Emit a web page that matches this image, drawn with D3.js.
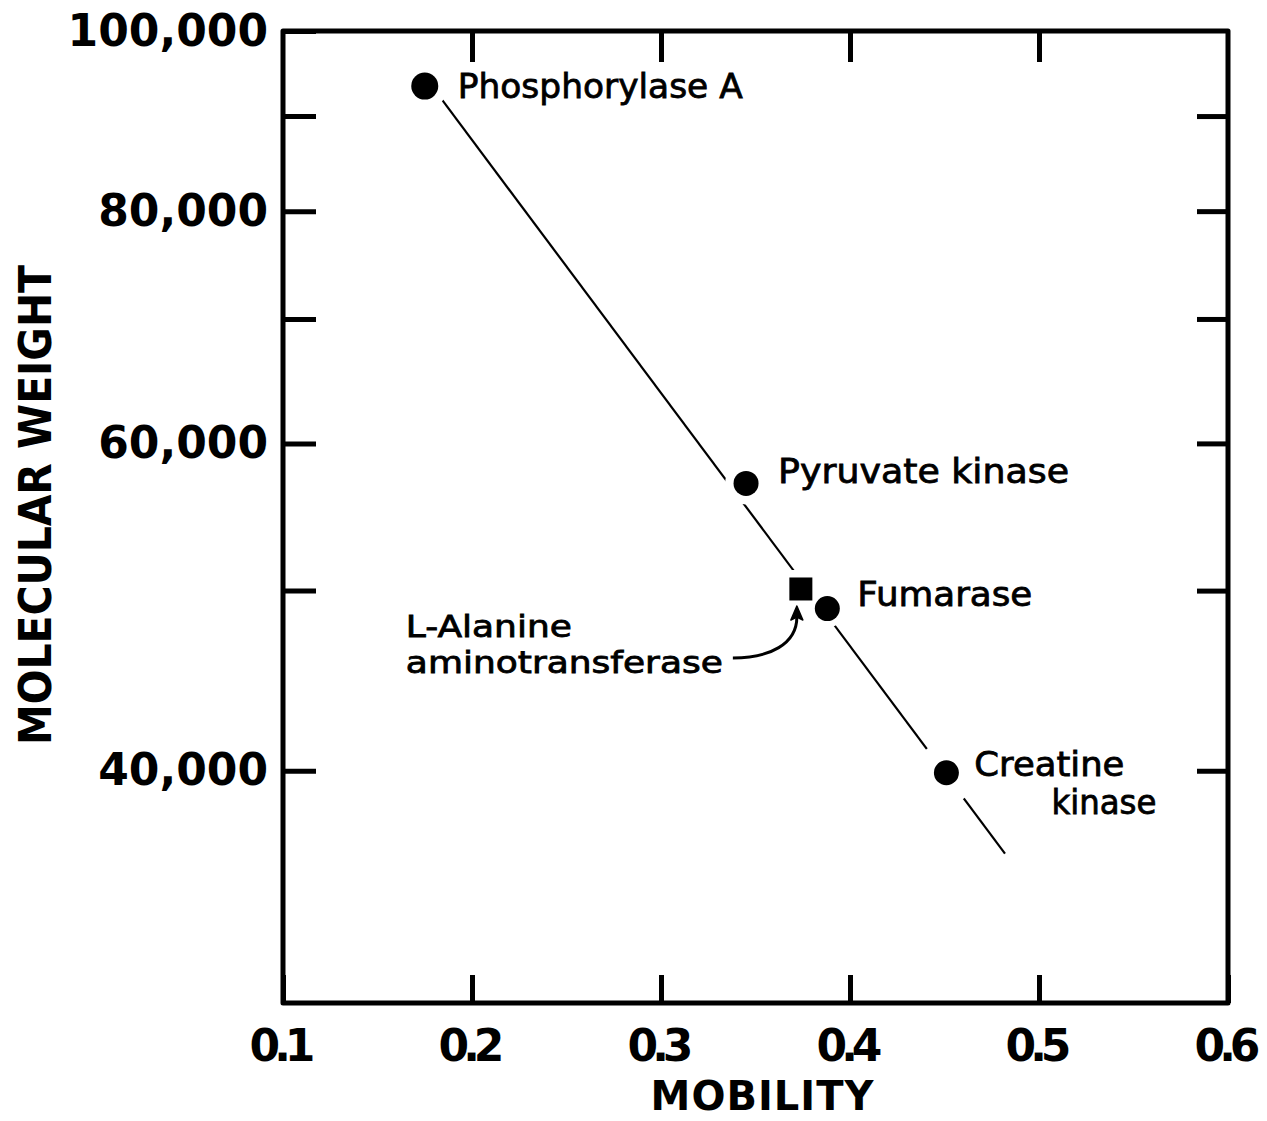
<!DOCTYPE html>
<html>
<head>
<meta charset="utf-8">
<script src="https://cdn.jsdelivr.net/npm/d3@7"></script>
<style>
  html, body { margin: 0; background: #fff; }
  svg { display: block; }
</style>
</head>
<body>
<svg id="chart" width="1267" height="1121"></svg>
<script>
// Calibration standards: electrophoretic mobility against molecular weight
const proteins    = ["Phosphorylase A", "Pyruvate kinase", "L-Alanine aminotransferase", "Fumarase", "Creatine kinase"];
const mobility    = [0.175, 0.345, 0.374, 0.388, 0.451];
const molWeight   = [93400, 57100, 50100, 48900, 39900];
const markerShape = ["circle", "circle", "square", "circle", "circle"];
const labelLines  = [["Phosphorylase A"], ["Pyruvate kinase"], ["L-Alanine", "aminotransferase"], ["Fumarase"], ["Creatine", "kinase"]];

// Ends of the fitted calibration line
const fitMobility = [0.1767, 0.482];
const fitWeight   = [94000, 36100];

// Axis ticks
const xTicks       = [0.1, 0.2, 0.3, 0.4, 0.5, 0.6];
const xTickLabels  = ["0.1", "0.2", "0.3", "0.4", "0.5", "0.6"];
const yTicks       = [40000, 50000, 60000, 70000, 80000, 90000, 100000];
const yTickLabels  = ["40,000", "", "60,000", "", "80,000", "", "100,000"];
const xTitle = "MOBILITY";
const yTitle = "MOLECULAR WEIGHT";

const svg = d3.select("#chart");
const x = d3.scaleLinear().domain([0.1, 0.6]).range([283, 1228]);
const y = d3.scaleLog().domain([30000, 100000]).range([1003, 31]);
const [x0, x1] = x.range();
const [y0, y1] = y.range();

const FONT = "'DejaVu Sans', sans-serif";

function styleAxis(g) {
  g.select(".domain").remove();
  g.selectAll(".tick line").attr("stroke", "#000").attr("stroke-width", 5);
  g.selectAll(".tick text")
    .attr("fill", "#000")
    .attr("font-family", FONT)
    .attr("font-weight", "bold")
    .attr("font-size", 44);
}

// Left axis with labels, ticks pointing inward
svg.append("g")
  .attr("transform", `translate(${x0},0)`)
  .call(d3.axisLeft(y).tickValues(yTicks).tickSize(-33).tickPadding(15)
        .tickFormat((d, i) => yTickLabels[i]))
  .call(styleAxis);

// Right axis, inward ticks only
svg.append("g")
  .attr("transform", `translate(${x1},0)`)
  .call(d3.axisRight(y).tickValues(yTicks.slice(0, -1)).tickSize(-31).tickFormat(""))
  .call(styleAxis);

// Bottom axis with labels
svg.append("g")
  .attr("transform", `translate(0,${y0})`)
  .call(d3.axisBottom(x).tickValues(xTicks).tickSize(-28).tickPadding(27)
        .tickFormat((d, i) => xTickLabels[i]))
  .call(styleAxis)
  .call(g => g.selectAll(".tick text").attr("letter-spacing", -6).attr("dx", -4));

// Top axis, inward ticks only
svg.append("g")
  .attr("transform", `translate(0,${y1})`)
  .call(d3.axisTop(x).tickValues(xTicks.slice(1, -1)).tickSize(-31).tickFormat(""))
  .call(styleAxis);

// Plot frame
svg.append("rect")
  .attr("x", x0).attr("y", y1)
  .attr("width", x1 - x0).attr("height", y0 - y1)
  .attr("fill", "none").attr("stroke", "#000")
  .attr("stroke-width", 5).attr("stroke-linejoin", "round");

// Axis titles
svg.append("text")
  .attr("x", (x0 + x1) / 2 + 7).attr("y", 1110)
  .attr("text-anchor", "middle")
  .attr("font-family", FONT).attr("font-weight", "bold").attr("font-size", 40)
  .attr("letter-spacing", 1)
  .text(xTitle);

svg.append("text")
  .attr("transform", "translate(51,505) rotate(-90)")
  .attr("text-anchor", "middle")
  .attr("font-family", FONT).attr("font-weight", "bold").attr("font-size", 44)
  .attr("textLength", 480).attr("lengthAdjust", "spacingAndGlyphs")
  .text(yTitle);

// Fitted line
const fit = fitMobility.map((m, i) => [m, fitWeight[i]]);
svg.append("path")
  .attr("d", d3.line().x(d => x(d[0])).y(d => y(d[1]))(fit))
  .attr("fill", "none").attr("stroke", "#000").attr("stroke-width", 2.2);

const pts = proteins.map((name, i) => ({
  name, i, shape: markerShape[i], px: x(mobility[i]), py: y(molWeight[i])
}));

// White clearings where the fitted line stops short of each point
const haloR = [23, 21, 19, 19, 31];
svg.append("g").selectAll("path").data(pts).join("path")
  .attr("fill", "#fff")
  .attr("d", d => {
    const r = haloR[d.i];
    return d.shape === "square"
      ? `M${d.px - r},${d.py - r}h${2 * r}v${2 * r}h${-2 * r}Z`
      : `M${d.px - r},${d.py}a${r},${r} 0 1,0 ${2 * r},0a${r},${r} 0 1,0 ${-2 * r},0Z`;
  });

// Markers
const markers = svg.append("g");
markers.selectAll("circle").data(pts.filter(d => d.shape === "circle")).join("circle")
  .attr("cx", d => d.px).attr("cy", d => d.py)
  .attr("r", d => d.i === 0 ? 13.5 : 12.5)
  .attr("fill", "#000");
markers.selectAll("rect").data(pts.filter(d => d.shape === "square")).join("rect")
  .attr("x", d => d.px - 11.5).attr("y", d => d.py - 11.5)
  .attr("width", 23).attr("height", 23)
  .attr("fill", "#000");

// Point labels: offset, width and size of each line
const labelLayout = [
  [{ dx: 33, dy: 12, w: 285, fs: 34 }],
  [{ dx: 32, dy: 0, w: 291, fs: 34 }],
  [{ dx: -395, dy: 48, w: 166, fs: 30 }, { dx: -395, dy: 84, w: 317, fs: 30 }],
  [{ dx: 30, dy: -3, w: 175, fs: 34 }],
  [{ dx: 28, dy: 3, w: 150, fs: 33 }, { dx: 105, dy: 41, w: 105, fs: 33 }]
];
const labels = svg.append("g")
  .attr("font-family", FONT)
  .attr("fill", "#000").attr("stroke", "#000").attr("stroke-width", 0.8);
pts.forEach(p => {
  labelLines[p.i].forEach((line, j) => {
    const L = labelLayout[p.i][j];
    labels.append("text")
      .attr("x", p.px + L.dx).attr("y", p.py + L.dy)
      .attr("font-size", L.fs)
      .attr("textLength", L.w).attr("lengthAdjust", "spacingAndGlyphs")
      .text(line);
  });
});

// Arrow from the aminotransferase label to its square marker
const sq = pts.find(d => d.shape === "square");
svg.append("path")
  .attr("d", `M${sq.px - 68},${sq.py + 69} C${sq.px - 31},${sq.py + 69} ${sq.px - 4},${sq.py + 55} ${sq.px - 4},${sq.py + 28}`)
  .attr("fill", "none").attr("stroke", "#000").attr("stroke-width", 3);
svg.append("path")
  .attr("d", `M${sq.px - 4},${sq.py + 17} L${sq.px - 10},${sq.py + 31} L${sq.px - 4},${sq.py + 28} L${sq.px + 2},${sq.py + 31} Z`)
  .attr("fill", "#000").attr("stroke", "#000").attr("stroke-width", 1.5).attr("stroke-linejoin", "round");
</script>
</body>
</html>
